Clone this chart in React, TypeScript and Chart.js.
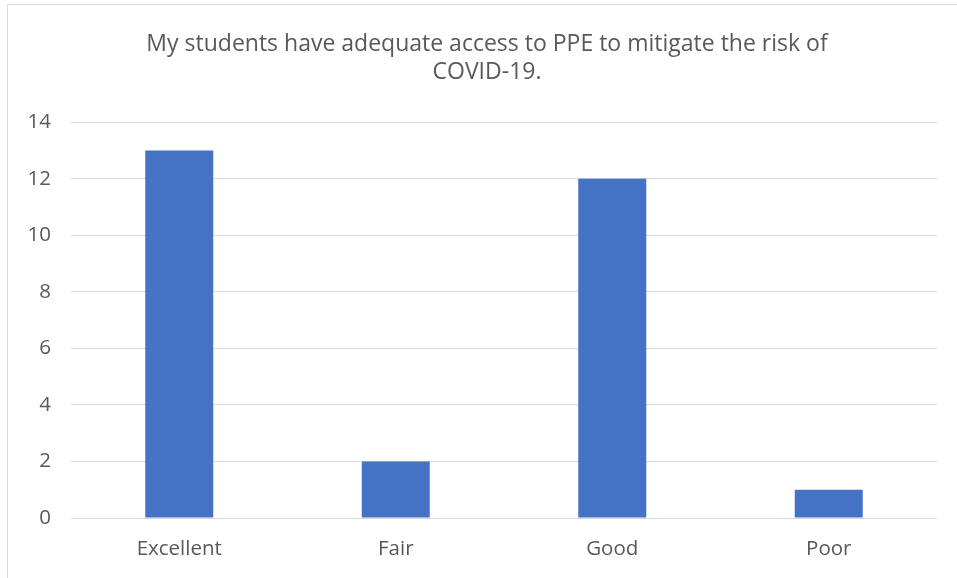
import React, { useEffect, useRef } from "react";
import { Chart, registerables } from "chart.js";

Chart.register(...registerables);

const categories = ["Excellent", "Fair", "Good", "Poor"];
const counts = [13, 2, 12, 1];
const titleLines = ["My students have adequate access to PPE to mitigate the risk of", "COVID-19."];
const yTicks = [0, 2, 4, 6, 8, 10, 12, 14];

const FONT = "'Open Sans', sans-serif";

const unclipYLabels = {
  id: "unclipYLabels",
  afterLayout(chart: any) {
    if (chart.scales.y) chart.scales.y.left = 0;
  },
};

export default function App() {
  const ref = useRef<HTMLCanvasElement | null>(null);
  useEffect(() => {
    document.body.style.margin = "0";
    document.body.style.overflow = "hidden";
    const ctx = ref.current!;
    const chart = new Chart(ctx, {
      type: "bar",
      data: {
        labels: categories,
        datasets: [
          {
            data: counts,
            backgroundColor: "#4472C4",
            borderWidth: 0,
            categoryPercentage: 1,
            barPercentage: 0.314,
          },
        ],
      },
      plugins: [unclipYLabels],
      options: {
        responsive: false,
        animation: false,
        layout: { padding: { left: 37, right: 20, top: 30, bottom: 0 } },
        plugins: {
          legend: { display: false },
          tooltip: { enabled: false },
          title: {
            display: true,
            text: titleLines,
            color: "#595959",
            font: { family: FONT, size: 23, weight: "normal", lineHeight: 1.22 },
            padding: { top: 0, bottom: 36 },
          },
        },
        scales: {
          x: {
            grid: { display: false, drawTicks: false },
            border: { display: false },
            ticks: { color: "#595959", font: { family: FONT, size: 20.5 }, padding: 19 },
            afterFit: (s: any) => { s.height = 60; },
          },
          y: {
            min: 0,
            max: 14,
            afterBuildTicks: (s: any) => { s.ticks = yTicks.map((v) => ({ value: v })); },
            grid: { color: "#D9D9D9", lineWidth: 1, drawTicks: false },
            border: { display: false },
            ticks: { color: "#595959", font: { family: FONT, size: 20.5 }, padding: 20 },
            afterFit: (s: any) => { s.width = 34; },
          },
        },
      },
    });
    return () => chart.destroy();
  }, []);
  return (
    <div style={{ position: "relative", width: 957, height: 578, overflow: "hidden" }}>
      <canvas ref={ref} width={957} height={578} style={{ position: "absolute", left: 0, top: 0 }} />
      <div style={{ position: "absolute", left: 7, top: 4, width: 1000, height: 700, border: "1px solid #D9D9D9", pointerEvents: "none" }} />
    </div>
  );
}
